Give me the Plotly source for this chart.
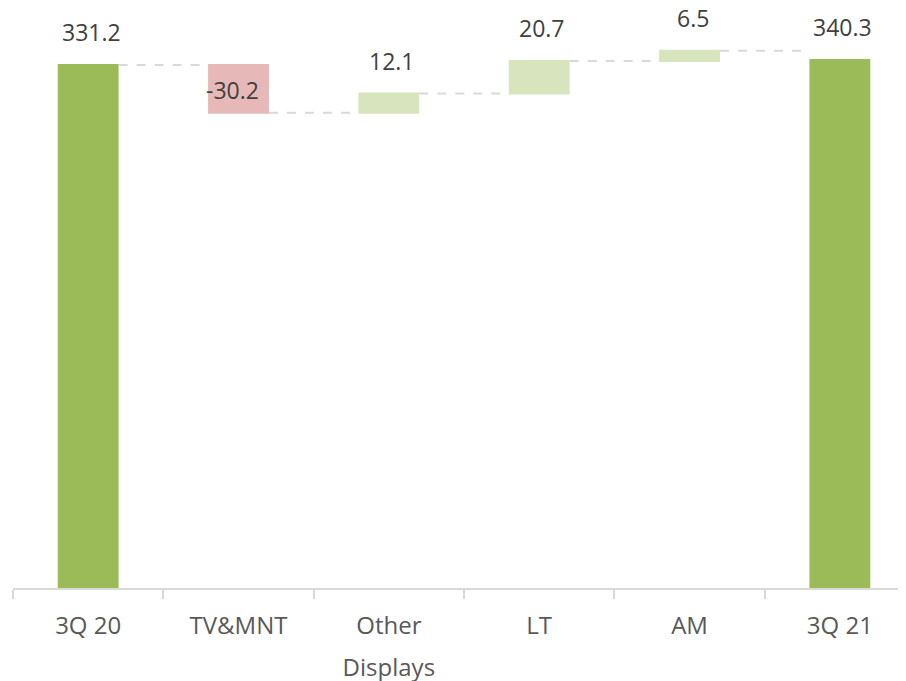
import plotly.graph_objects as go

# ---- data ----
categories = ["3Q 20", "TV&MNT", "Other Displays", "LT", "AM", "3Q 21"]
tick_labels = ["3Q 20", "TV&MNT", "Other<br>Displays", "LT", "AM", "3Q 21"]
measures = ["absolute", "relative", "relative", "relative", "relative", "absolute"]
values = [331.2, -30.2, 12.1, 20.7, 6.5, 334.4]  # last bar is drawn at this height in the reference
value_labels = ["331.2", "-30.2", "12.1", "20.7", "6.5", "340.3"]

TOTAL_COLOR = "#9BBB59"
INC_COLOR = "#D7E4BD"
DEC_COLOR = "#E6B9B8"
GRID_GRAY = "#D9D9D9"

fig = go.Figure(
    go.Waterfall(
        x=categories,
        y=values,
        measure=measures,
        width=0.405,
        totals=dict(marker=dict(color=TOTAL_COLOR, line=dict(width=0))),
        increasing=dict(marker=dict(color=INC_COLOR, line=dict(width=0))),
        decreasing=dict(marker=dict(color=DEC_COLOR, line=dict(width=0))),
        connector=dict(mode="between", line=dict(color=GRID_GRAY, width=2, dash="dash")),
        textposition="none",
        hoverinfo="skip",
    )
)

# value labels positioned from the computed bar extents
annotations = []
cum = 0.0
for cat, m, v, lab in zip(categories, measures, values, value_labels):
    if m == "absolute":
        start, end = 0.0, v
    else:
        start, end = cum, cum + v
    cum = end
    if m == "relative" and v < 0:
        annotations.append(dict(x=cat, y=(start + end) / 2, text=lab, showarrow=False,
                                xshift=-6, yshift=-1.5, yanchor="middle",
                                font=dict(size=23, color="#404040")))
    else:
        annotations.append(dict(x=cat, y=max(start, end), text=lab, showarrow=False,
                                xshift=3, yshift=33, yanchor="middle",
                                font=dict(size=23, color="#404040")))

fig.update_layout(
    width=898,
    height=673,
    margin=dict(l=5, r=0, t=0, b=93),
    paper_bgcolor="white",
    plot_bgcolor="white",
    font=dict(family="Open Sans, sans-serif", color="#595959"),
    showlegend=False,
    annotations=annotations,
)
fig.update_xaxes(
    type="category",
    automargin=False,
    range=[-0.5, 5.44],
    tickmode="array",
    tickvals=categories,
    ticktext=[f'<span style="font-size:24px">{t}</span>' for t in tick_labels],
    tickfont=dict(size=32, color="#595959"),
    ticklabelstandoff=6,
    tickson="boundaries",
    ticks="outside",
    ticklen=9,
    tickwidth=1.5,
    tickcolor=GRID_GRAY,
    showline=True,
    linecolor=GRID_GRAY,
    linewidth=2,
    showgrid=False,
    zeroline=False,
)
fig.update_yaxes(
    automargin=False,
    range=[0, 367.3],
    visible=False,
    showgrid=False,
    zeroline=False,
)

fig.write_html("out.html")
